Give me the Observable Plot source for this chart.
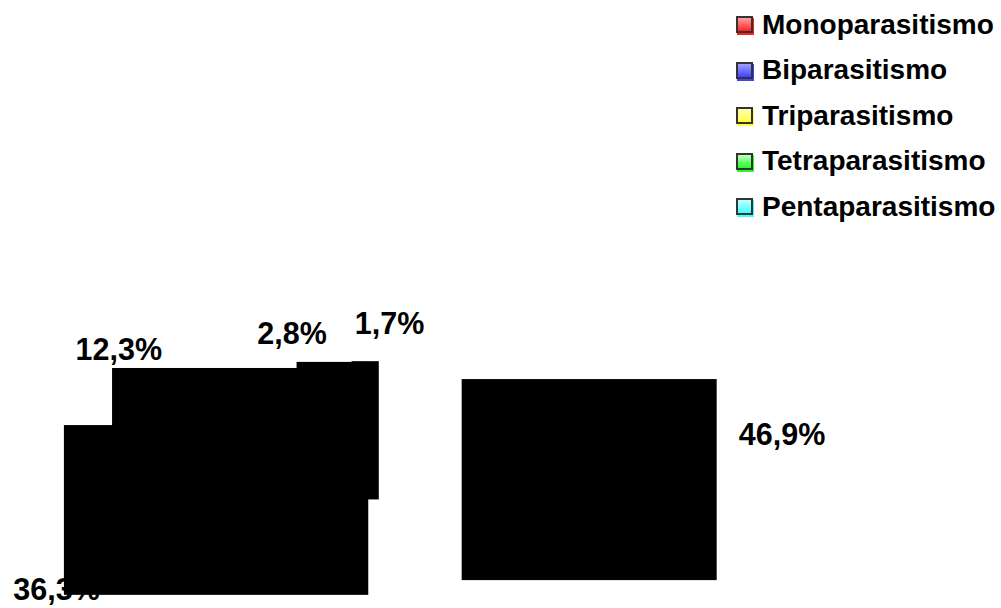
<!DOCTYPE html>
<html><head><meta charset="utf-8">
<script src="https://cdn.jsdelivr.net/npm/d3@7"></script>
<script src="https://cdn.jsdelivr.net/npm/@observablehq/plot@0.6"></script>
<style>
body{margin:0;background:#fff;font-family:"Liberation Sans",Arial,sans-serif;}
#wrap{position:relative;width:1001px;height:608px;overflow:hidden;}
#legend{position:absolute;left:736px;top:0;}
.row{position:absolute;left:0;height:17px;display:flex;align-items:center;white-space:nowrap;font-weight:bold;font-size:28px;color:#000;}
.sw{box-sizing:border-box;width:17px;height:17px;border:2px solid #333;margin-right:9px;flex:none;}
svg{position:absolute;left:0;top:0;}
</style></head><body><div id="wrap"><div id="legend"></div></div>
<script>
// Data
const categories = ["Monoparasitismo","Biparasitismo","Triparasitismo","Tetraparasitismo","Pentaparasitismo"];
const values = [46.9, 36.3, 12.3, 2.8, 1.7];
const labels = ["46,9%","36,3%","12,3%","2,8%","1,7%"];

// Styles / layout (kept apart from data)
const swatchTop = ["#ffa0a0","#a0a0ff","#ffffb0","#c0ffc0","#c0ffff"];
const swatchBottom = ["#ff2020","#4040ff","#ffff40","#20ff20","#40ffff"];
const labelNudge = [[-10,0],[6,10],[-10,-14],[-12,-10],[28,-18]];
const depth = 1.16, explode = 0.31, labelR = 1.3;

const total = d3.sum(values);
let acc = 0;
const slices = values.map((v, i) => {
  const a0 = acc / total * 2 * Math.PI; acc += v;
  const a1 = acc / total * 2 * Math.PI;
  const m = (a0 + a1) / 2;
  const pts = [[0,0],[Math.sin(a0),-Math.cos(a0)],[Math.sin(a1),-Math.cos(a1)]];
  for (let k = 0; k <= 4; k++) { const c = k * Math.PI / 2; if (c > a0 && c < a1) pts.push([Math.sin(c), -Math.cos(c)]); }
  const ox = explode * Math.sin(m), oy = -explode * Math.cos(m);
  const xs = pts.map(p => p[0]), ys = pts.map(p => p[1]);
  return {
    category: categories[i], value: v, label: labels[i],
    x1: ox + d3.min(xs), x2: ox + d3.max(xs),
    y1: oy + d3.min(ys), y2: oy + d3.max(ys) + depth,
    lx: ox + labelR * Math.sin(m),
    ly: oy - labelR * Math.cos(m) + (Math.cos(m) < 0 ? depth : 0),
    dx: labelNudge[i][0], dy: labelNudge[i][1]
  };
});

const chart = Plot.plot({
  width: 1001, height: 608, margin: 0,
  style: {background: "transparent", fontFamily: '"Liberation Sans", Arial, sans-serif'},
  x: {domain: [-1, 1], range: [128, 638], axis: null},
  y: {domain: [-1, 1], range: [381, 509], axis: null},
  marks: [
    ...slices.map(s => Plot.text([s], {
      x: "lx", y: "ly", text: "label", dx: s.dx, dy: s.dy,
      fontSize: 30.5, fontWeight: "bold", fill: "#000", textAnchor: "middle", lineAnchor: "middle"
    })),
    Plot.rect(slices, {x1: "x1", x2: "x2", y1: "y1", y2: "y2", fill: "#000"})
  ]
});
document.getElementById("wrap").appendChild(chart);

const legend = document.getElementById("legend");
categories.forEach((c, i) => {
  const row = document.createElement("div");
  row.className = "row";
  row.style.top = (16 + i * 45.5) + "px";
  const sw = document.createElement("div");
  sw.className = "sw";
  sw.style.background = `linear-gradient(${swatchTop[i]}, ${swatchBottom[i]})`;
  sw.style.boxShadow = `1px 2px 0 ${swatchBottom[i]}`;
  const t = document.createElement("span");
  t.textContent = c;
  row.appendChild(sw); row.appendChild(t);
  legend.appendChild(row);
});
</script></body></html>
